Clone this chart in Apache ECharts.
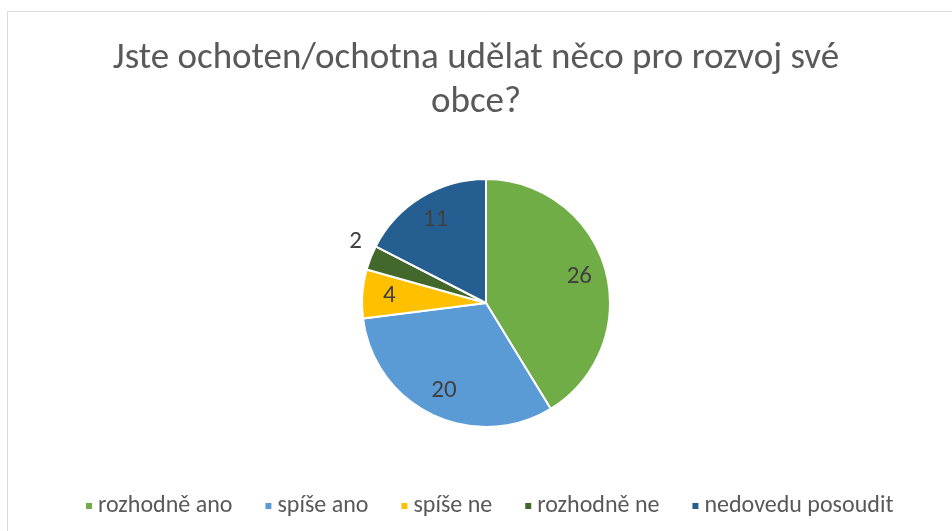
<!DOCTYPE html>
<html>
<head>
<meta charset="utf-8">
<script src="https://cdn.jsdelivr.net/npm/echarts@6/dist/echarts.min.js"></script>
<style>
  html, body { margin: 0; padding: 0; background: #fff; }
  #chart { width: 952px; height: 531px; }
</style>
</head>
<body>
<div id="chart"></div>
<script>
const titleText = 'Jste ochoten/ochotna udělat něco pro rozvoj své\nobce?';
const categories = ['rozhodně ano', 'spíše ano', 'spíše ne', 'rozhodně ne', 'nedovedu posoudit'];
const values = [26, 20, 4, 2, 11];
const colors = ['#70ad47', '#5b9bd5', '#ffc000', '#43682b', '#255e91'];
// which slice gets its label outside the pie
const outsideLabel = [false, false, false, true, false];

const chart = echarts.init(document.getElementById('chart'));
const font = "Carlito, 'Liberation Sans Narrow', 'Open Sans', sans-serif";

// main pie: slices only (+ the small outside label)
const pieData = categories.map((name, i) => ({
    name: name,
    value: values[i],
    itemStyle: { color: colors[i] },
    label: { show: outsideLabel[i], position: 'outside' },
    labelLine: { show: false }
}));

// transparent overlay, used only to place inside labels further out
const labelData = categories.map((name, i) => ({
    name: name,
    value: values[i],
    itemStyle: { color: 'rgba(0,0,0,0)' },
    label: { show: !outsideLabel[i] }
}));

chart.setOption({
    animation: false,
    title: {
        text: titleText,
        left: 'center',
        top: 32,
        textStyle: {
            fontFamily: font,
            fontSize: 37,
            fontWeight: 'normal',
            color: '#595959',
            lineHeight: 44
        }
    },
    graphic: [{
        type: 'rect',
        shape: { x: 7.5, y: 11.5, width: 980, height: 560 },
        style: { fill: 'none', stroke: '#d9d9d9', lineWidth: 1 },
        silent: true
    }],
    legend: {
        data: categories,
        bottom: 8,
        left: 79,
        icon: 'rect',
        itemWidth: 8,
        itemHeight: 8,
        itemGap: 31,
        textStyle: { fontFamily: font, fontSize: 24, color: '#595959' }
    },
    series: [
        {
            type: 'pie',
            center: [486, 303],
            radius: 124,
            startAngle: 90,
            clockwise: true,
            silent: true,
            itemStyle: { borderColor: '#fff', borderWidth: 2 },
            label: {
                formatter: '{c}',
                fontFamily: font,
                fontSize: 25,
                color: '#404040'
            },
            labelLine: { show: false, length: 6, length2: 0 },
            labelLayout: { dx: 2, dy: -14 },
            data: pieData
        },
        {
            type: 'pie',
            center: [486, 303],
            radius: 188,
            startAngle: 90,
            clockwise: true,
            silent: true,
            label: {
                position: 'inside',
                formatter: '{c}',
                fontFamily: font,
                fontSize: 25,
                color: '#404040'
            },
            labelLine: { show: false },
            data: labelData
        }
    ]
});
</script>
</body>
</html>
